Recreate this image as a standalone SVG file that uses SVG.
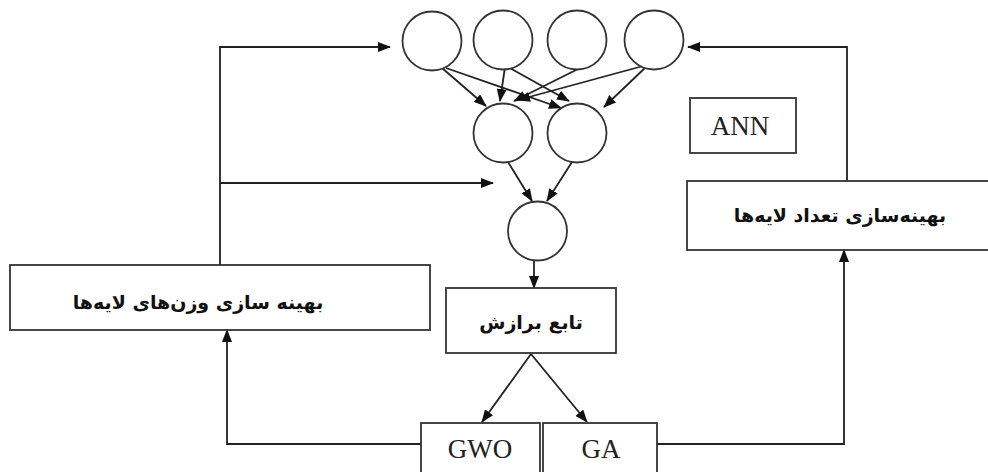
<svg xmlns="http://www.w3.org/2000/svg" width="988" height="472" viewBox="0 0 988 472">
<defs>
<marker id="ah" markerWidth="13" markerHeight="10" refX="12" refY="5" orient="auto" markerUnits="userSpaceOnUse">
<path d="M0,0 L13,5 L0,10 Z" fill="#111"/>
</marker>
<style>
.n{fill:#fff;stroke:#333;stroke-width:1.8}
.b{fill:#fff;stroke:#333;stroke-width:1.8}
.c{fill:none;stroke:#222;stroke-width:1.8}
.a{fill:none;stroke:#222;stroke-width:1.8;marker-end:url(#ah)}
.fa{font-family:"DejaVu Sans","Noto Sans",sans-serif;font-weight:bold;font-size:19px;fill:#111;text-anchor:middle}
.en{font-family:"Liberation Serif","Times New Roman",serif;font-size:27px;fill:#222;text-anchor:middle}
</style>
</defs>
<rect width="988" height="472" fill="#fff"/>
<g id="connectors">
<line class="a" x1="442" y1="68" x2="486" y2="106"/>
<line class="a" x1="446" y1="68" x2="561" y2="108"/>
<line class="a" x1="505" y1="67" x2="500" y2="101"/>
<line class="a" x1="508" y1="67" x2="569" y2="101"/>
<line class="a" x1="580" y1="68" x2="514" y2="101"/>
<line class="a" x1="643" y1="66" x2="518" y2="100"/>
<line class="a" x1="646" y1="67" x2="604" y2="107"/>
<line class="a" x1="508" y1="162" x2="532" y2="201"/>
<line class="a" x1="572" y1="162" x2="547" y2="201"/>
<line class="a" x1="534" y1="260" x2="534" y2="288"/>
<line class="a" x1="531" y1="354" x2="482" y2="422"/>
<line class="a" x1="531" y1="354" x2="587" y2="422"/>
<polyline class="c" points="220,265 220,47 380,47"/>
<line class="a" x1="370" y1="47" x2="390" y2="47"/>
<line class="a" x1="220" y1="183" x2="493" y2="183"/>
<polyline class="a" points="421,444 227,444 227,330"/>
<polyline class="a" points="847,181 847,47 688,47"/>
<polyline class="a" points="657,444 844,444 844,250"/>
</g>
<g id="n1"><circle class="n" cx="432" cy="41" r="29.5"/></g>
<g id="n2"><circle class="n" cx="503" cy="40" r="29.5"/></g>
<g id="n3"><circle class="n" cx="577" cy="40" r="29.5"/></g>
<g id="n4"><circle class="n" cx="654" cy="40" r="29.5"/></g>
<g id="h1"><circle class="n" cx="503" cy="133" r="29.5"/></g>
<g id="h2"><circle class="n" cx="577" cy="133" r="29.5"/></g>
<g id="out"><circle class="n" cx="537.5" cy="231" r="29.5"/></g>
<g id="fitness"><rect class="b" x="446" y="288" width="170" height="65"/><text class="fa" x="531" y="329">تابع برازش</text></g>
<g id="weights"><rect class="b" x="10" y="265" width="420" height="65"/><text class="fa" x="198" y="309">بهینه سازی وزن‌های لایه‌ها</text></g>
<g id="layers"><rect class="b" x="687" y="181" width="320" height="69"/><text class="fa" x="840" y="222">بهینه‌سازی تعداد لایه‌ها</text></g>
<g id="ann"><rect class="b" x="690" y="98" width="106" height="55"/><text class="en" x="740" y="135">ANN</text></g>
<g id="gwo"><rect class="b" x="421" y="423" width="119" height="60"/><text class="en" x="480" y="458">GWO</text></g>
<g id="ga"><rect class="b" x="543" y="423" width="114" height="60"/><text class="en" x="601" y="458">GA</text></g>
</svg>
